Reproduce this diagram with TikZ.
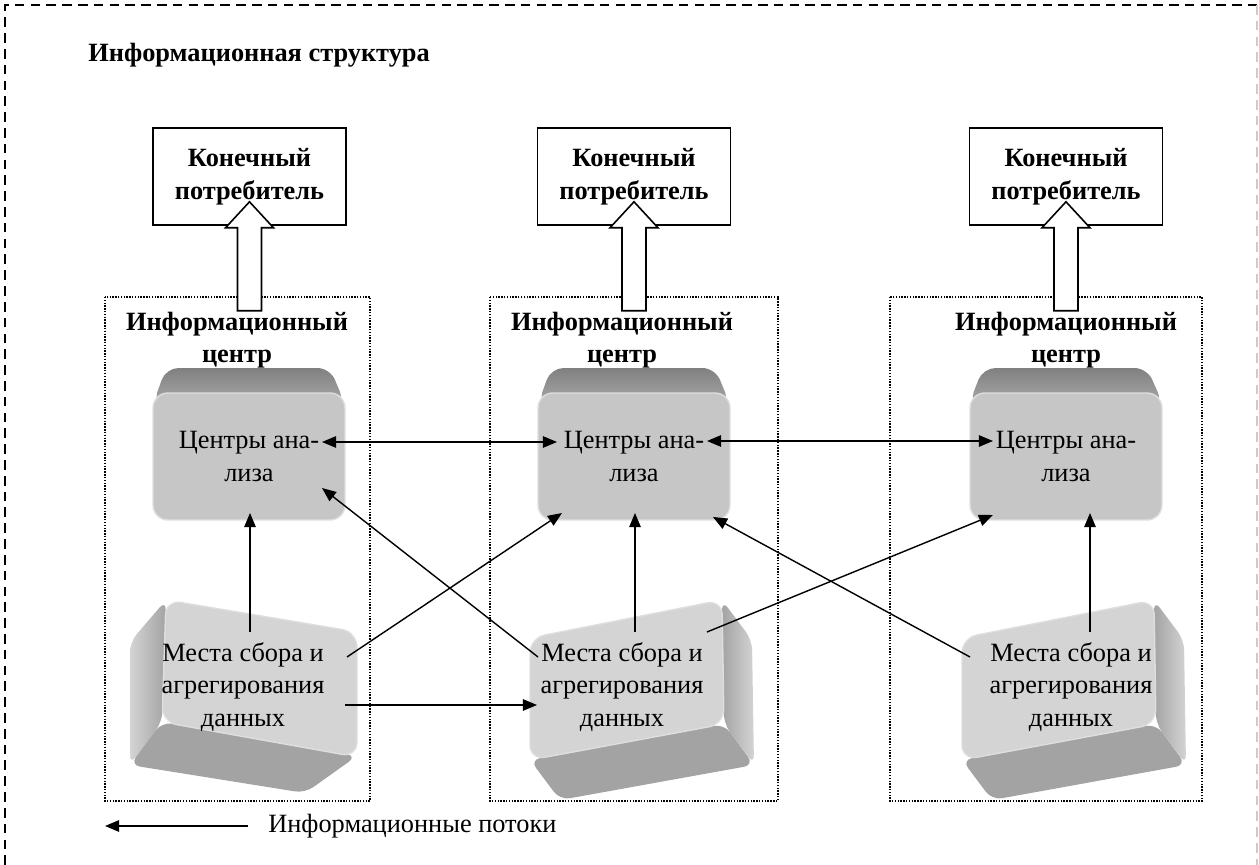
\documentclass[tikz,border=0pt]{standalone}
\usepackage{fontspec}
\setmainfont{Liberation Serif}
\usetikzlibrary{arrows.meta,calc}
\definecolor{capdark}{RGB}{128,128,128}
\definecolor{caplight}{RGB}{168,168,168}
\definecolor{keygray}{RGB}{198,198,198}
\definecolor{keylight}{RGB}{212,212,212}
\definecolor{keyside}{RGB}{163,163,163}
\definecolor{keyedge}{RGB}{222,222,222}
\begin{document}
\begin{tikzpicture}[x=0.02cm,y=-0.02cm]
\tikzstyle{every node}+=[inner sep=0pt, align=center, font=\fontsize{15}{18.5}\selectfont]
\tikzstyle{flow}=[-{Triangle[length=8pt,width=6.5pt]}, line width=0.8pt]
\tikzstyle{flowboth}=[{Triangle[length=8pt,width=6.5pt]}-{Triangle[length=8pt,width=6.5pt]}, line width=0.8pt]
\tikzstyle{consumer}=[draw, line width=0.9pt, fill=white, minimum width=3.86cm, minimum height=1.94cm, font=\fontsize{15}{18.5}\selectfont\bfseries]
\tikzstyle{centre}=[dash pattern=on 0.8pt off 0.8pt, line width=0.7pt]
\tikzstyle{keyface}=[fill=keygray, draw=keyedge, line width=0.8pt, rounded corners=0.3cm, minimum width=3.84cm, minimum height=2.54cm]
\tikzstyle{heading}=[font=\fontsize{15}{18.5}\selectfont\bfseries]
\useasboundingbox (0,0) rectangle (1259,865);
% outer frame
\draw[dash pattern=on 5.5pt off 3.5pt, line width=0.7pt] (5,865) -- (5,5) -- (1257,5);
\draw[dash pattern=on 5.5pt off 3.5pt, line width=0.7pt, black!20] (1257,5) -- (1257,865);
\node[heading, anchor=west] (title) at (88,55) {Информационная структура};
% information centres
\draw[centre] (105,297) rectangle (370,801);
\draw[centre] (490,297) rectangle (778,801);
\draw[centre] (890,297) rectangle (1202,801);
\node[consumer] (c1) at (249.5,176.5) {Конечный\\потребитель};
\node[consumer] (c2) at (634,176.5) {Конечный\\потребитель};
\node[consumer] (c3) at (1066,176.5) {Конечный\\потребитель};
\foreach \c in {c1,c2,c3}
  \draw[fill=white, line width=0.9pt] ($(\c.south)+(-12,85)$) -- ($(\c.south)+(-12,2)$) -- ($(\c.south)+(-24,2)$)
    -- ($(\c.south)+(0,-24)$) -- ($(\c.south)+(24,2)$) -- ($(\c.south)+(12,2)$) -- ($(\c.south)+(12,85)$) -- cycle;
\node[heading] (t1) at (237,340) {Информационный\\центр};
\node[heading] (t2) at (622,340) {Информационный\\центр};
\node[heading] (t3) at (1066,340) {Информационный\\центр};
% analysis centres
\shade[top color=capdark, bottom color=caplight, rounded corners=0.25cm] (166,368) -- (330,368) -- (345,404) -- (153,404) -- cycle;
\shade[top color=capdark, bottom color=caplight, rounded corners=0.25cm] (551,368) -- (715,368) -- (730,404) -- (538,404) -- cycle;
\shade[top color=capdark, bottom color=caplight, rounded corners=0.25cm] (983,368) -- (1147,368) -- (1163,404) -- (969,404) -- cycle;
\node[keyface] (a1) at (249,456.5) {Центры ана-\\лиза};
\node[keyface] (a2) at (634,456.5) {Центры ана-\\лиза};
\node[keyface] (a3) at (1066,456.5) {Центры ана-\\лиза};
% collection points
\shade[left color=keylight, right color=keyside, rounded corners=0.2cm] (166,600) -- (130,642) -- (130,765) -- (162,722) -- cycle;
\fill[keyside, rounded corners=0.2cm] (162,722) -- (357,756) -- (305,793) -- (130,765) -- cycle;
\fill[keylight, draw=keyedge, line width=0.8pt, rounded corners=0.3cm] (166,600) -- (357,632) -- (357,757) -- (162,722) -- cycle;
\fill[keyside, rounded corners=0.2cm] (530,760) -- (724,724) -- (754,765) -- (560,800) -- cycle;
\shade[left color=keyside, right color=keylight, rounded corners=0.2cm] (722,600) -- (752,640) -- (754,765) -- (724,724) -- cycle;
\fill[keylight, draw=keyedge, line width=0.8pt, rounded corners=0.3cm] (530,638) -- (722,600) -- (724,724) -- (530,760) -- cycle;
\fill[keyside, rounded corners=0.2cm] (962,760) -- (1156,724) -- (1186,765) -- (992,800) -- cycle;
\shade[left color=keyside, right color=keylight, rounded corners=0.2cm] (1154,600) -- (1184,640) -- (1186,765) -- (1156,724) -- cycle;
\fill[keylight, draw=keyedge, line width=0.8pt, rounded corners=0.3cm] (962,638) -- (1154,600) -- (1156,724) -- (962,760) -- cycle;
\node (b1) at (243,687) {Места сбора и\\агрегирования\\данных};
\node (b2) at (622,687) {Места сбора и\\агрегирования\\данных};
\node (b3) at (1071,687) {Места сбора и\\агрегирования\\данных};
% information flows
\draw[flowboth] ($(a1)+(73,-14.5)$) -- ($(a2)+(-77,-14.5)$);
\draw[flowboth] ($(a2)+(73,-15.5)$) -- ($(a3)+(-73,-15.5)$);
\draw[flow] ($(b1)+(7,-55)$) -- ($(a1)+(1,56.5)$);
\draw[flow] ($(b1)+(104,-30)$) -- ($(a2)+(-72,56.5)$);
\draw[flow] ($(b1)+(102,18)$) -- ($(b2)+(-85,18)$);
\draw[flow] ($(b2)+(13,-55)$) -- ($(a2)+(1,56.5)$);
\draw[flow] ($(b2)+(-84,-30)$) -- ($(a1)+(73,31.5)$);
\draw[flow] ($(b2)+(85,-55)$) -- ($(a3)+(-73,58.5)$);
\draw[flow] ($(b3)+(-101,-30)$) -- ($(a2)+(79,60.5)$);
\draw[flow] ($(b3)+(19,-55)$) -- ($(a3)+(24,56.5)$);
% legend
\node[anchor=west] (legend) at (268,826) {Информационные потоки};
\draw[flow] ($(legend.west)+(-20,0)$) -- ++(-143,0);
\end{tikzpicture}
\end{document}
